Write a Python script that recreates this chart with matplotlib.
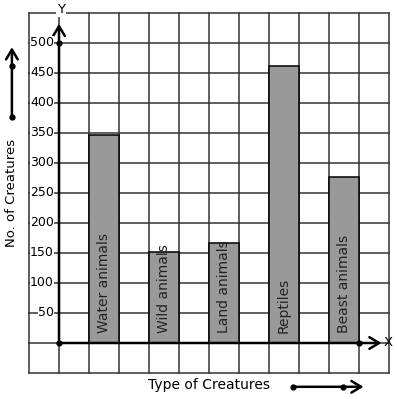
import matplotlib
matplotlib.use("Agg")
import matplotlib.pyplot as plt

# 数据
categories = ["Water animals", "Wild animals", "Land animals", "Reptiles", "Beast animals"]
counts = [346, 151, 166, 462, 276]
y_ticks = [50, 100, 150, 200, 250, 300, 350, 400, 450, 500]

plt.rcParams["font.family"] = ["DejaVu Sans"]

fig = plt.figure(figsize=(3.97, 3.99), dpi=100)
ax = fig.add_axes([0, 0, 1, 1])
ax.set_xlim(-59 / 30, 338 / 30)
ax.set_ylim(-56 / 30 * 50, 343 / 30 * 50)
ax.axis("off")

# 网格
grid_color = "#333333"
for gx in range(-1, 12):
    ax.plot([gx, gx], [-50, 550], color=grid_color, lw=1.1, zorder=1)
for gy in range(-50, 551, 50):
    ax.plot([-1, 11], [gy, gy], color=grid_color, lw=1.1, zorder=1)

# 柱状图
xs = [2 * i + 1.5 for i in range(len(categories))]
ax.bar(xs, counts, width=1, color="#999999", edgecolor="black", lw=1.1, zorder=3)
for x, name in zip(xs, categories):
    ax.text(x, 17, name, rotation=90, ha="center", va="bottom", fontsize=10,
            color="#222222", zorder=4)

# 坐标轴
arrow = dict(arrowstyle="->,head_length=0.5,head_width=0.3", lw=1.8,
             color="black", mutation_scale=14, shrinkA=0, shrinkB=0)
ax.annotate("", xy=(0, 532), xytext=(0, 0), arrowprops=arrow, zorder=5)
ax.annotate("", xy=(10.75, 0), xytext=(0, 0), arrowprops=arrow, zorder=5)
ax.plot([0, 0, 10], [0, 500, 0], "o", color="black", ms=3.5, zorder=6)
ax.text(0.07, 555, "Y", ha="center", va="center", fontsize=9.5, zorder=6,
        bbox=dict(facecolor="white", edgecolor="none", pad=0.5))
ax.text(10.97, 0, "X", ha="center", va="center", fontsize=9.5, zorder=6)

for t in y_ticks:
    ax.text(-0.17, t, str(t), ha="right", va="center", fontsize=9, zorder=6,
            bbox=dict(facecolor="white", edgecolor="none", pad=0.3))

# 坐标轴标题和箭头
ax.text(-1.57, 250, "No. of Creatures", rotation=90, ha="center", va="center", fontsize=9.5)
ax.annotate("", xy=(-1.57, 493), xytext=(-1.57, 377), arrowprops=arrow)
ax.plot([-1.57, -1.57], [377, 462], "o", color="black", ms=3.5)

ax.text(5.0, -70, "Type of Creatures", ha="center", va="center", fontsize=10)
ax.annotate("", xy=(10.15, -73), xytext=(7.8, -73), arrowprops=arrow)
ax.plot([7.8, 9.47], [-73, -73], "o", color="black", ms=3.5)

fig.savefig("out.png", dpi=100, facecolor="white")
